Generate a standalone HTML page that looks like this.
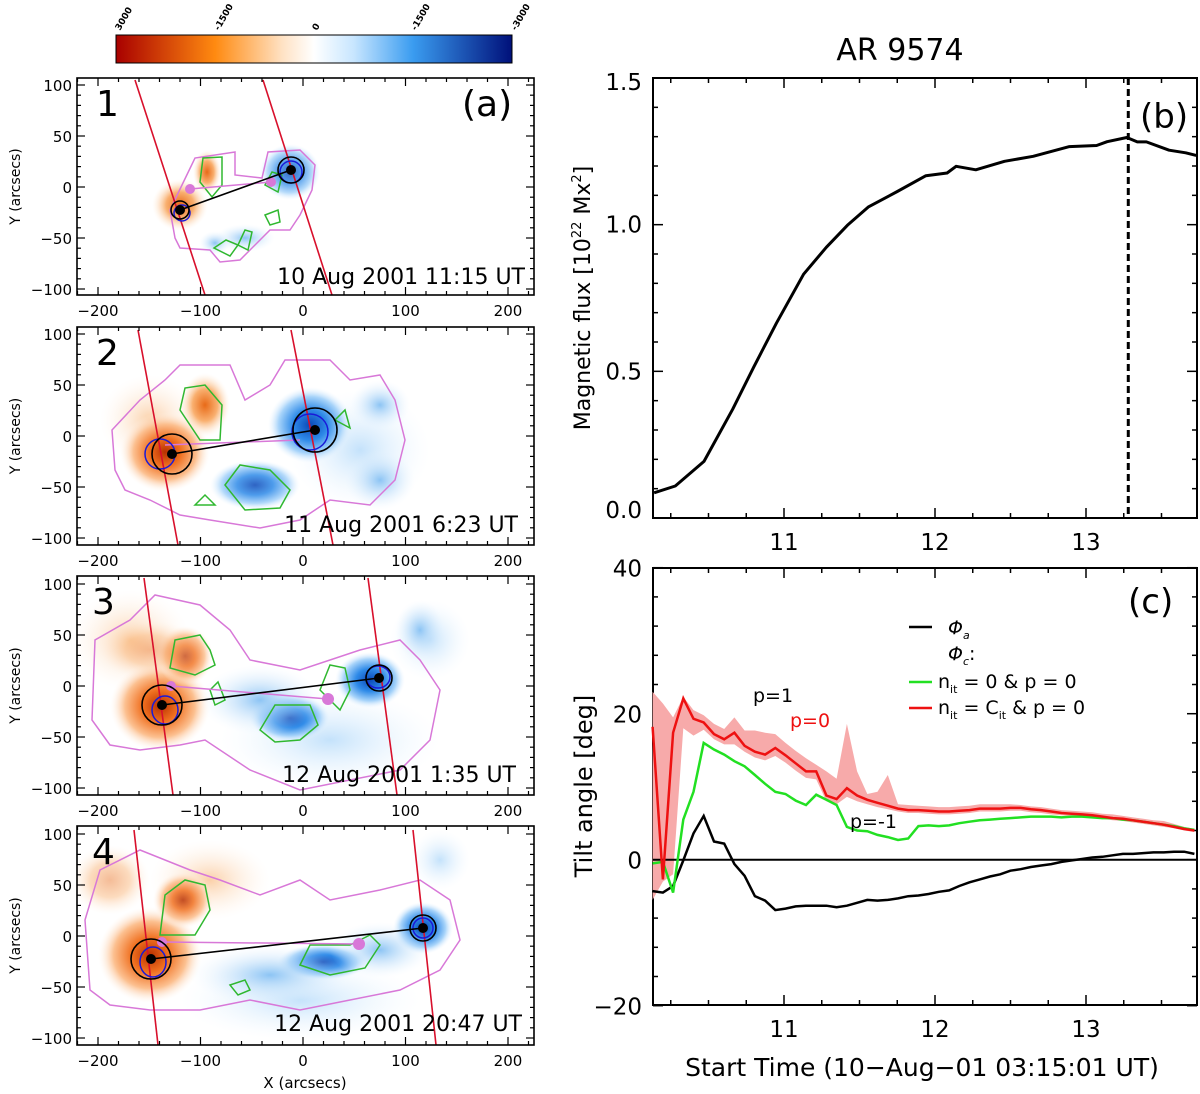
<!DOCTYPE html>
<html><head><meta charset="utf-8"><style>
html,body{margin:0;padding:0;background:#fff}
svg{display:block;font-family:"DejaVu Sans","Liberation Sans",sans-serif}
</style></head><body>
<svg id="fig" width="1200" height="1094" viewBox="0 0 1200 1094" xmlns="http://www.w3.org/2000/svg">
<defs>
<linearGradient id="cbar" x1="0" x2="1" y1="0" y2="0">
<stop offset="0" stop-color="#a80000"/><stop offset="0.25" stop-color="#ff8a10"/><stop offset="0.42" stop-color="#ffe2c4"/><stop offset="0.5" stop-color="#ffffff"/><stop offset="0.6" stop-color="#c8e6ff"/><stop offset="0.75" stop-color="#3a9cf0"/><stop offset="1" stop-color="#00107a"/>
</linearGradient>
<radialGradient id="org"><stop offset="0" stop-color="#b83000"/><stop offset="0.35" stop-color="#f07020"/><stop offset="0.7" stop-color="#fcc090"/><stop offset="1" stop-color="#fff4ea" stop-opacity="0"/></radialGradient>
<radialGradient id="orgl"><stop offset="0" stop-color="#e86a18"/><stop offset="0.5" stop-color="#f9b070"/><stop offset="1" stop-color="#fff0e0" stop-opacity="0"/></radialGradient>
<radialGradient id="orgf"><stop offset="0" stop-color="#fbd0a8"/><stop offset="1" stop-color="#fff4ea" stop-opacity="0"/></radialGradient>
<radialGradient id="blu"><stop offset="0" stop-color="#0a48b8"/><stop offset="0.4" stop-color="#2e8ae8"/><stop offset="0.75" stop-color="#a8d4fa"/><stop offset="1" stop-color="#e8f4ff" stop-opacity="0"/></radialGradient>
<radialGradient id="blul"><stop offset="0" stop-color="#8cc4f4"/><stop offset="1" stop-color="#e8f4ff" stop-opacity="0"/></radialGradient>
<radialGradient id="bluf"><stop offset="0" stop-color="#c4e2fb"/><stop offset="1" stop-color="#f0f8ff" stop-opacity="0"/></radialGradient>
<clipPath id="c1"><rect x="77" y="78" width="457" height="217"/></clipPath>
<clipPath id="c2"><rect x="77" y="327" width="457" height="218"/></clipPath>
<clipPath id="c3"><rect x="77" y="576" width="457" height="219"/></clipPath>
<clipPath id="c4"><rect x="77" y="826" width="457" height="219"/></clipPath>
</defs>

<g>
<rect x="116" y="35" width="396" height="28" fill="url(#cbar)" stroke="#000" stroke-width="1"/>
<g font-size="9" font-weight="bold" fill="#000">
<text transform="translate(120,31) rotate(-60)">3000</text>
<text transform="translate(219,31) rotate(-60)">-1500</text>
<text transform="translate(317,31) rotate(-60)">0</text>
<text transform="translate(416,31) rotate(-60)">-1500</text>
<text transform="translate(516,31) rotate(-60)">-3000</text>
</g></g>

<g>
<g clip-path="url(#c1)">
<ellipse cx="180" cy="205" rx="28" ry="26" fill="url(#orgl)"/>
<ellipse cx="207" cy="172" rx="14" ry="22" fill="url(#orgl)"/>
<ellipse cx="290" cy="172" rx="30" ry="28" fill="url(#blu)" opacity="0.8"/>
<ellipse cx="245" cy="238" rx="30" ry="14" fill="url(#blul)"/>
<ellipse cx="215" cy="243" rx="16" ry="12" fill="url(#blul)"/>
<path d="M175 238 L170 210 L182 185 L195 158 L235 152 L235 175 L262 178 L268 152 L300 150 L315 165 L312 190 L300 215 L290 230 L270 230 L260 240 L240 260 L220 262 L210 250 L180 248 Z" fill="none" stroke="#d878d8" stroke-width="1.5"/>
<path d="M200 182 L203 158 L222 157 L222 185 L212 197 Z M265 185 L272 172 L282 175 L278 192 Z M214 248 L226 240 L238 245 L230 256 Z M265 215 L278 210 L280 222 L270 225 Z M238 245 L245 230 L252 232 L248 250 Z" fill="none" stroke="#30b830" stroke-width="1.5"/>
<line x1="135" y1="80" x2="205" y2="295" stroke="#d8102c" stroke-width="1.6"/>
<line x1="263" y1="80" x2="332" y2="295" stroke="#d8102c" stroke-width="1.6"/>
<line x1="190" y1="189" x2="271" y2="182" stroke="#d878d8" stroke-width="1.5"/>
<circle cx="190" cy="189" r="5" fill="#d878d8"/><circle cx="271" cy="182" r="5" fill="#d878d8"/>
<circle cx="182" cy="213" r="8" fill="none" stroke="#1a1ad8" stroke-width="1.5"/>
<circle cx="291" cy="172" r="11" fill="none" stroke="#1a1ad8" stroke-width="1.5"/>
<line x1="180" y1="210" x2="291" y2="170" stroke="#000" stroke-width="1.6"/>
<circle cx="180" cy="210" r="9" fill="none" stroke="#000" stroke-width="1.6"/><circle cx="180" cy="210" r="5" fill="#000"/>
<circle cx="291" cy="170" r="13" fill="none" stroke="#000" stroke-width="1.6"/><circle cx="291" cy="170" r="5" fill="#000"/>
</g>
<text x="96" y="116" font-size="36">1</text>
<text x="462" y="116" font-size="36">(a)</text>
<text x="525" y="284" font-size="22" text-anchor="end">10 Aug 2001 11:15 UT</text>
</g>

<g>
<g clip-path="url(#c2)">
<ellipse cx="150" cy="420" rx="50" ry="45" fill="url(#orgf)"/>
<ellipse cx="360" cy="450" rx="70" ry="60" fill="url(#bluf)"/>
<ellipse cx="165" cy="452" rx="45" ry="40" fill="url(#org)"/>
<ellipse cx="205" cy="405" rx="25" ry="32" fill="url(#orgl)"/>
<ellipse cx="310" cy="425" rx="42" ry="38" fill="url(#blu)"/>
<ellipse cx="255" cy="485" rx="45" ry="25" fill="url(#blu)" opacity="0.85"/>
<ellipse cx="380" cy="480" rx="35" ry="30" fill="url(#blul)"/>
<ellipse cx="380" cy="405" rx="30" ry="25" fill="url(#blul)"/>
<path d="M115 470 L112 430 L140 400 L165 380 L180 365 L230 365 L245 400 L270 385 L285 360 L330 360 L350 380 L380 375 L395 400 L405 440 L395 480 L370 505 L330 500 L300 520 L260 528 L210 520 L180 515 L150 500 L125 490 Z" fill="none" stroke="#d878d8" stroke-width="1.5"/>
<path d="M180 410 L185 388 L205 385 L222 405 L220 440 L200 440 Z M225 485 L240 465 L270 470 L290 490 L280 508 L245 510 Z M335 420 L345 410 L350 428 Z M195 505 L205 495 L215 505 Z" fill="none" stroke="#30b830" stroke-width="1.5"/>
<line x1="138" y1="330" x2="178" y2="545" stroke="#d8102c" stroke-width="1.6"/>
<line x1="291" y1="330" x2="333" y2="545" stroke="#d8102c" stroke-width="1.6"/>
<line x1="165" y1="445" x2="300" y2="440" stroke="#d878d8" stroke-width="1.5"/>
<circle cx="160" cy="454" r="15" fill="none" stroke="#1a1ad8" stroke-width="1.5"/>
<circle cx="310" cy="432" r="18" fill="none" stroke="#1a1ad8" stroke-width="1.5"/>
<line x1="172" y1="454" x2="315" y2="430" stroke="#000" stroke-width="1.6"/>
<circle cx="172" cy="454" r="20" fill="none" stroke="#000" stroke-width="1.6"/><circle cx="172" cy="454" r="5" fill="#000"/>
<circle cx="315" cy="430" r="22" fill="none" stroke="#000" stroke-width="1.6"/><circle cx="315" cy="430" r="5" fill="#000"/>
</g>
<text x="96" y="365" font-size="36">2</text>
<text x="518" y="532" font-size="22" text-anchor="end">11 Aug 2001 6:23 UT</text>
</g>

<g>
<g clip-path="url(#c3)">
<ellipse cx="130" cy="640" rx="60" ry="50" fill="url(#orgf)"/>
<ellipse cx="330" cy="740" rx="110" ry="50" fill="url(#bluf)"/>
<ellipse cx="430" cy="640" rx="40" ry="40" fill="url(#bluf)"/>
<ellipse cx="160" cy="706" rx="50" ry="45" fill="url(#org)"/>
<ellipse cx="185" cy="656" rx="28" ry="30" fill="url(#org)" opacity="0.85"/>
<ellipse cx="150" cy="650" rx="50" ry="30" fill="url(#orgl)" opacity="0.4"/>
<ellipse cx="290" cy="718" rx="40" ry="24" fill="url(#blu)"/>
<ellipse cx="370" cy="680" rx="35" ry="28" fill="url(#blu)"/>
<ellipse cx="260" cy="700" rx="60" ry="35" fill="url(#blul)"/>
<ellipse cx="420" cy="630" rx="25" ry="30" fill="url(#blul)"/>
<path d="M92 720 L95 640 L130 620 L155 595 L200 605 L230 630 L250 660 L300 670 L330 660 L360 650 L400 640 L420 660 L440 690 L430 740 L400 770 L350 780 L300 790 L250 770 L205 740 L180 745 L140 750 L110 745 Z" fill="none" stroke="#d878d8" stroke-width="1.5"/>
<path d="M170 668 L175 640 L200 635 L210 650 L215 665 L195 675 Z M260 730 L275 705 L310 705 L318 725 L300 740 L275 742 Z M320 690 L330 665 L345 668 L350 690 L340 710 Z M210 690 L218 682 L225 700 L215 705 Z" fill="none" stroke="#30b830" stroke-width="1.5"/>
<line x1="144" y1="578" x2="173" y2="795" stroke="#d8102c" stroke-width="1.6"/>
<line x1="368" y1="578" x2="397" y2="795" stroke="#d8102c" stroke-width="1.6"/>
<line x1="171" y1="686" x2="328" y2="699" stroke="#d878d8" stroke-width="1.5"/>
<circle cx="171" cy="686" r="5" fill="#d878d8"/><circle cx="328" cy="699" r="6" fill="#d878d8"/>
<ellipse cx="165" cy="710" rx="13" ry="14" fill="none" stroke="#1a1ad8" stroke-width="1.5"/>
<ellipse cx="378" cy="677" rx="12" ry="11" fill="none" stroke="#1a1ad8" stroke-width="1.5"/>
<line x1="162" y1="705" x2="379" y2="678" stroke="#000" stroke-width="1.6"/>
<circle cx="162" cy="705" r="20" fill="none" stroke="#000" stroke-width="1.6"/><circle cx="162" cy="705" r="5" fill="#000"/>
<circle cx="379" cy="678" r="13" fill="none" stroke="#000" stroke-width="1.6"/><circle cx="379" cy="678" r="5" fill="#000"/>
</g>
<text x="92" y="614" font-size="36">3</text>
<text x="516" y="782" font-size="22" text-anchor="end">12 Aug 2001 1:35 UT</text>
</g>

<g>
<g clip-path="url(#c4)">
<ellipse cx="210" cy="880" rx="60" ry="40" fill="url(#orgf)"/>
<ellipse cx="300" cy="1000" rx="120" ry="40" fill="url(#bluf)"/>
<ellipse cx="440" cy="860" rx="30" ry="30" fill="url(#bluf)"/>
<ellipse cx="150" cy="955" rx="52" ry="48" fill="url(#org)"/>
<ellipse cx="183" cy="900" rx="30" ry="28" fill="url(#org)" opacity="0.85"/>
<ellipse cx="110" cy="880" rx="40" ry="35" fill="url(#orgl)" opacity="0.45"/>
<ellipse cx="323" cy="962" rx="45" ry="18" fill="url(#blu)"/>
<ellipse cx="423" cy="928" rx="30" ry="26" fill="url(#blu)"/>
<ellipse cx="270" cy="975" rx="80" ry="30" fill="url(#blul)"/>
<ellipse cx="380" cy="950" rx="50" ry="28" fill="url(#blul)"/>
<path d="M90 990 L85 920 L100 870 L140 850 L190 870 L220 880 L260 895 L300 880 L330 900 L380 890 L420 880 L450 900 L460 940 L440 970 L400 990 L350 1000 L300 1010 L250 1000 L200 1010 L150 1010 L110 1005 Z" fill="none" stroke="#d878d8" stroke-width="1.5"/>
<path d="M160 935 L165 895 L185 880 L205 885 L210 910 L195 935 Z M300 965 L310 945 L350 945 L370 935 L380 945 L365 968 L330 975 Z M230 985 L245 980 L250 990 L238 995 Z" fill="none" stroke="#30b830" stroke-width="1.5"/>
<line x1="134" y1="830" x2="158" y2="1045" stroke="#d8102c" stroke-width="1.6"/>
<line x1="413" y1="830" x2="436" y2="1045" stroke="#d8102c" stroke-width="1.6"/>
<line x1="162" y1="942" x2="359" y2="944" stroke="#d878d8" stroke-width="1.5"/>
<circle cx="162" cy="942" r="5" fill="#d878d8"/><circle cx="359" cy="944" r="6" fill="#d878d8"/>
<ellipse cx="153" cy="962" rx="13" ry="15" fill="none" stroke="#1a1ad8" stroke-width="1.5"/>
<circle cx="423" cy="928" r="10" fill="none" stroke="#1a1ad8" stroke-width="1.5"/>
<line x1="151" y1="959" x2="423" y2="928" stroke="#000" stroke-width="1.6"/>
<circle cx="151" cy="959" r="20" fill="none" stroke="#000" stroke-width="1.6"/><circle cx="151" cy="959" r="5" fill="#000"/>
<circle cx="423" cy="928" r="13" fill="none" stroke="#000" stroke-width="1.6"/><circle cx="423" cy="928" r="5" fill="#000"/>
</g>
<text x="92" y="864" font-size="36">4</text>
<text x="522" y="1031" font-size="22" text-anchor="end">12 Aug 2001 20:47 UT</text>
</g>

<g id="axes-left"></g>
<text x="305" y="1088" font-size="15" text-anchor="middle">X (arcsecs)</text>

<text x="900" y="60" font-size="30" text-anchor="middle">AR 9574</text>
<g id="flux"></g>
<g id="tilt"></g>
</svg>
<script>
const fluxTimes = [10.14,10.28,10.47,10.66,10.80,10.95,11.13,11.28,11.42,11.56,11.75,11.94,12.08,12.14,12.27,12.46,12.65,12.89,13.07,13.14,13.27,13.34,13.40,13.55,13.66,13.73];
const fluxValues = [0.086,0.109,0.193,0.371,0.515,0.664,0.831,0.923,0.998,1.061,1.113,1.167,1.176,1.199,1.187,1.216,1.233,1.266,1.270,1.283,1.297,1.282,1.282,1.254,1.245,1.236];
const fluxTicks = ["0.0","0.5","1.0","1.5"];
const fluxTickVals = [0,0.5,1.0,1.5];
const timeTicks = ["11","12","13"];
const timeTickVals = [11,12,13];
const markerTime = 13.28;

const tiltTimes = [];
for (let i = 0; i < 54; i++) tiltTimes.push(10.13 + i * 0.0677);
const phiA = [-4.3,-4.5,-3.6,-0.1,3.6,6.0,2.5,2.2,-0.6,-2.2,-5.0,-5.6,-6.9,-6.7,-6.4,-6.3,-6.3,-6.3,-6.5,-6.3,-5.9,-5.5,-5.6,-5.5,-5.3,-5.0,-4.9,-4.7,-4.4,-4.2,-3.6,-3.1,-2.7,-2.3,-2.0,-1.5,-1.3,-1.0,-0.8,-0.6,-0.3,-0.1,0.1,0.3,0.4,0.6,0.8,0.8,0.9,1.0,1.0,1.1,1.1,0.8];
const phiGreen = [-0.5,-0.3,-4.5,5.5,9.3,16.0,15.1,14.4,13.5,12.8,11.6,10.4,9.3,9.0,8.1,7.5,8.9,8.2,7.5,4.5,4.0,3.9,3.4,3.1,2.7,2.9,4.6,4.7,4.6,4.7,5.0,5.2,5.4,5.5,5.6,5.7,5.8,5.9,5.9,5.9,5.8,5.9,5.9,5.8,5.7,5.7,5.5,5.4,5.2,5.0,4.8,4.6,4.3,4.1];
const phiRed = [18.2,-2.7,17.4,22.1,19.3,18.8,17.2,16.5,17.4,15.6,14.8,14.4,15.3,14.3,13.2,12.1,12.1,8.8,8.3,9.8,8.8,8.2,7.8,7.4,7.0,6.8,6.8,6.7,6.6,6.6,6.7,6.8,7.0,7.0,7.0,7.1,7.1,6.9,6.8,6.6,6.4,6.3,6.2,6.1,5.9,5.7,5.6,5.4,5.2,5.0,4.8,4.5,4.2,4.0];
const bandUpper = [23.0,21.4,19.5,22.3,20.5,19.8,18.6,17.9,19.5,17.7,17.7,17.4,17.2,16.0,14.9,13.9,13.0,12.1,11.1,18.6,12.1,9.0,9.3,11.6,7.6,7.5,7.4,7.3,7.2,7.2,7.3,7.4,7.6,7.6,7.6,7.6,7.5,7.3,7.2,7.0,6.8,6.7,6.6,6.5,6.3,6.2,6.0,5.8,5.6,5.4,5.3,4.9,4.5,4.2];
const bandLower = [-5.5,-3.0,-2.0,18.0,17.0,17.8,16.5,15.8,15.8,14.8,14.0,13.6,14.2,13.3,12.2,11.2,11.0,8.0,7.6,8.6,8.0,7.6,7.2,6.9,6.6,6.4,6.4,6.3,6.2,6.2,6.3,6.4,6.6,6.6,6.6,6.7,6.7,6.5,6.4,6.2,6.1,6.0,5.9,5.8,5.6,5.4,5.3,5.1,4.9,4.7,4.5,4.3,4.0,3.8];
const tiltTicks = ["−20","0","20","40"];
const tiltTickVals = [-20,0,20,40];

const NS = "http://www.w3.org/2000/svg";
function mk(parent, tag, attrs, text) {
  const e = document.createElementNS(NS, tag);
  for (const k in attrs) e.setAttribute(k, attrs[k]);
  if (text !== undefined) e.textContent = text;
  parent.appendChild(e);
  return e;
}

const axL = document.getElementById('axes-left');
const panels = [{t:78,b:295,z:187},{t:327,b:545,z:436},{t:576,b:795,z:686},{t:826,b:1045,z:936}];
const mx = v => 303 + 1.025 * v;
panels.forEach((p, i) => {
  const r = mk(axL, 'rect', {x:77, y:p.t, width:457, height:p.b-p.t, fill:'none', stroke:'#000', 'stroke-width':1.6});
  
  
  const my = v => p.z - 1.02 * v;
  for (let v = -220; v <= 220; v += 20) {
    const len = v % 100 === 0 ? 8 : 4;
    mk(axL, 'line', {x1:mx(v), x2:mx(v), y1:p.b, y2:p.b-len, stroke:'#000', 'stroke-width':1.2});
    mk(axL, 'line', {x1:mx(v), x2:mx(v), y1:p.t, y2:p.t+len, stroke:'#000', 'stroke-width':1.2});
  }
  for (let v = -100; v <= 100; v += 10) {
    const len = v % 50 === 0 ? 8 : 4;
    mk(axL, 'line', {x1:77, x2:77+len, y1:my(v), y2:my(v), stroke:'#000', 'stroke-width':1.2});
    mk(axL, 'line', {x1:534, x2:534-len, y1:my(v), y2:my(v), stroke:'#000', 'stroke-width':1.2});
  }
  [-200,-100,0,100,200].forEach(v => {
    const t = mk(axL, 'text', {x:mx(v), y:p.b+21, 'font-size':15, 'text-anchor':'middle'}, v < 0 ? '−' + (-v) : String(v));
    
    
  });
  [-100,-50,0,50,100].forEach(v => {
    const t = mk(axL, 'text', {x:72, y:my(v)+6, 'font-size':15, 'text-anchor':'end'}, v < 0 ? '−' + (-v) : String(v));
    
    
  });
  const yt = mk(axL, 'text', {transform:'translate(20,' + (p.t+p.b)/2 + ') rotate(-90)', 'font-size':14, 'text-anchor':'middle'}, 'Y (arcsecs)');
  
  
});

const X0 = 653, X1 = 1197;
const tx = t => 784 + (t - 11) * 151;

function frame(g, top, bot, yFn, yMin, yMax, minorStep) {
  const r = mk(g, 'rect', {x:X0, y:top, width:X1-X0, height:bot-top, fill:'none', stroke:'#000', 'stroke-width':2});
  
  
  for (let t = 10.25; t < 13.75; t += 0.25) {
    const len = Math.abs(t - Math.round(t)) < 0.01 ? 10 : 5;
    mk(g, 'line', {x1:tx(t), x2:tx(t), y1:bot, y2:bot-len, stroke:'#000', 'stroke-width':1.5});
    mk(g, 'line', {x1:tx(t), x2:tx(t), y1:top, y2:top+len, stroke:'#000', 'stroke-width':1.5});
  }
  for (let v = yMin; v <= yMax + 1e-9; v += minorStep) {
    const isMaj = Math.abs(v / (minorStep*5) - Math.round(v / (minorStep*5))) < 1e-6;
    const len = isMaj ? 10 : 5;
    mk(g, 'line', {x1:X0, x2:X0+len, y1:yFn(v), y2:yFn(v), stroke:'#000', 'stroke-width':1.5});
    mk(g, 'line', {x1:X1, x2:X1-len, y1:yFn(v), y2:yFn(v), stroke:'#000', 'stroke-width':1.5});
  }
  timeTickVals.forEach((v, i) => {
    const t = mk(g, 'text', {x:tx(v), y:bot+32, 'font-size':23, 'text-anchor':'middle'}, timeTicks[i]);
    
    
  });
}
function pathFrom(xs, ys, xf, yf) {
  return xs.map((x, i) => (i ? 'L' : 'M') + xf(x).toFixed(1) + ' ' + yf(ys[i]).toFixed(1)).join(' ');
}

const gb = document.getElementById('flux');
const fy = v => 518 - v * (440 / 1.5);
frame(gb, 78, 518, fy, 0, 1.5, 0.1);
fluxTickVals.forEach((v, i) => {
  const t = mk(gb, 'text', {x:642, y:fy(v) + (v === 1.5 ? 12 : v === 0 ? 0 : 8), 'font-size':23, 'text-anchor':'end'}, fluxTicks[i]);
  
  
});
const fl = mk(gb, 'path', {d:pathFrom(fluxTimes, fluxValues, tx, fy), fill:'none', stroke:'#000', 'stroke-width':3, 'stroke-linejoin':'round'});


const dl = mk(gb, 'line', {x1:tx(markerTime), x2:tx(markerTime), y1:78, y2:518, stroke:'#000', 'stroke-width':3, 'stroke-dasharray':'7,4'});


const lb = mk(gb, 'text', {x:1140, y:128, 'font-size':34}, '(b)');


const yb = mk(gb, 'text', {transform:'translate(590,298) rotate(-90)', 'font-size':22, 'text-anchor':'middle'});


yb.innerHTML = 'Magnetic flux [10<tspan dy="-9" font-size="13">22</tspan><tspan dy="9"> Mx</tspan><tspan dy="-9" font-size="13">2</tspan><tspan dy="9">]</tspan>';

const gc = document.getElementById('tilt');
const cy = v => 859.7 - v * 7.3;
frame(gc, 568, 1005, cy, -20, 40, 4);
tiltTickVals.forEach((v, i) => {
  const t = mk(gc, 'text', {x:642, y:cy(v) + 9, 'font-size':23, 'text-anchor':'end'}, tiltTicks[i]);
  
  
});
const bandPts = tiltTimes.map((t, i) => tx(t).toFixed(1) + ',' + cy(bandUpper[i]).toFixed(1))
  .concat(tiltTimes.map((t, i) => tx(t).toFixed(1) + ',' + cy(bandLower[i]).toFixed(1)).reverse());
const band = mk(gc, 'polygon', {points:bandPts.join(' '), fill:'#f7aaaa', stroke:'none'});


const zl = mk(gc, 'line', {x1:X0, x2:X1, y1:cy(0), y2:cy(0), stroke:'#000', 'stroke-width':2});


const la = mk(gc, 'path', {d:pathFrom(tiltTimes, phiA, tx, cy), fill:'none', stroke:'#000', 'stroke-width':2.5});


const lg = mk(gc, 'path', {d:pathFrom(tiltTimes, phiGreen, tx, cy), fill:'none', stroke:'#22e022', 'stroke-width':2.5});


const lr = mk(gc, 'path', {d:pathFrom(tiltTimes, phiRed, tx, cy), fill:'none', stroke:'#ee1111', 'stroke-width':2.5});


const lc = mk(gc, 'text', {x:1128, y:613, 'font-size':34}, '(c)');


const yc = mk(gc, 'text', {transform:'translate(592,786) rotate(-90)', 'font-size':24, 'text-anchor':'middle'}, 'Tilt angle [deg]');


const xc = mk(gc, 'text', {x:922, y:1076, 'font-size':25, 'text-anchor':'middle'}, 'Start Time (10\u2212Aug\u221201 03:15:01 UT)');



const leg = mk(gc, 'g', {});


mk(leg, 'line', {x1:909, x2:932, y1:627, y2:627, stroke:'#000', 'stroke-width':2.5});
mk(leg, 'text', {x:948, y:634, 'font-size':19, 'font-style':'italic'}, 'Φ').innerHTML = 'Φ<tspan dy="5" font-size="11">a</tspan>';
mk(leg, 'text', {x:948, y:660, 'font-size':19, 'font-style':'italic'}).innerHTML = 'Φ<tspan dy="5" font-size="11">c</tspan><tspan dy="-5" font-style="normal">:</tspan>';
mk(leg, 'line', {x1:909, x2:932, y1:682, y2:682, stroke:'#22e022', 'stroke-width':2.5});
mk(leg, 'text', {x:938, y:688, 'font-size':19}).innerHTML = 'n<tspan dy="5" font-size="11">it</tspan><tspan dy="-5"> = 0  &amp; p = 0</tspan>';
mk(leg, 'line', {x1:909, x2:932, y1:708, y2:708, stroke:'#ee1111', 'stroke-width':2.5});
mk(leg, 'text', {x:938, y:714, 'font-size':19}).innerHTML = 'n<tspan dy="5" font-size="11">it</tspan><tspan dy="-5"> = C</tspan><tspan dy="5" font-size="11">it</tspan><tspan dy="-5"> &amp; p = 0</tspan>';

const a1 = mk(gc, 'text', {x:753, y:702, 'font-size':19}, 'p=1');


const a0 = mk(gc, 'text', {x:790, y:727, 'font-size':19, fill:'#ee1111'}, 'p=0');


const am = mk(gc, 'text', {x:850, y:828, 'font-size':19}, 'p=-1');


</script>
</body></html>
